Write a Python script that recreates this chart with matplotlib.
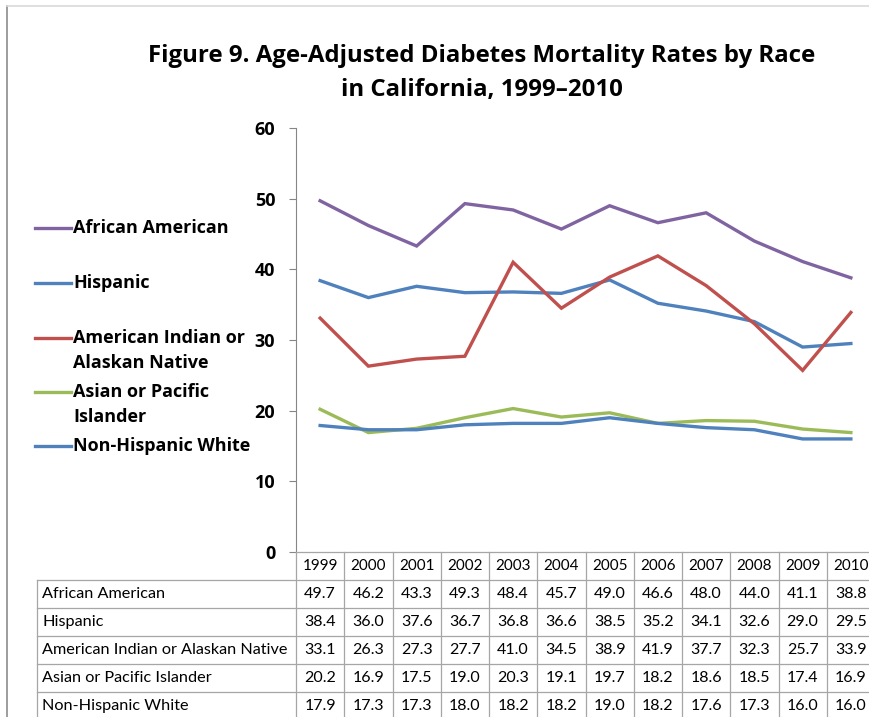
import matplotlib
matplotlib.use("Agg")
import matplotlib.pyplot as plt
from matplotlib.lines import Line2D

years = ["1999", "2000", "2001", "2002", "2003", "2004", "2005", "2006", "2007", "2008", "2009", "2010"]
series_names = ["African American", "Hispanic", "American Indian or Alaskan Native",
                "Asian or Pacific Islander", "Non-Hispanic White"]
legend_labels = [["African American"], ["Hispanic"], ["American Indian or", "Alaskan Native"],
                 ["Asian or Pacific", "Islander"], ["Non-Hispanic White"]]
african_american = [49.7, 46.2, 43.3, 49.3, 48.4, 45.7, 49.0, 46.6, 48.0, 44.0, 41.1, 38.8]
hispanic = [38.4, 36.0, 37.6, 36.7, 36.8, 36.6, 38.5, 35.2, 34.1, 32.6, 29.0, 29.5]
american_indian = [33.1, 26.3, 27.3, 27.7, 41.0, 34.5, 38.9, 41.9, 37.7, 32.3, 25.7, 33.9]
asian_pacific = [20.2, 16.9, 17.5, 19.0, 20.3, 19.1, 19.7, 18.2, 18.6, 18.5, 17.4, 16.9]
non_hispanic_white = [17.9, 17.3, 17.3, 18.0, 18.2, 18.2, 19.0, 18.2, 17.6, 17.3, 16.0, 16.0]
all_series = [african_american, hispanic, american_indian, asian_pacific, non_hispanic_white]
colors = ["#8064A2", "#4F81BD", "#C0504D", "#9BBB59", "#4F81BD"]
yticks = [0, 10, 20, 30, 40, 50, 60]
title_lines = ["Figure 9. Age-Adjusted Diabetes Mortality Rates by Race",
               "in California, 1999\u20132010"]

W, H = 869, 717
fig = plt.figure(figsize=(W / 100, H / 100), dpi=100)
plt.rcParams['font.family'] = ['Lato', 'DejaVu Sans']
BOLD = ['Open Sans', 'DejaVu Sans']

def fx(px):
    return px / W

def fy(py):
    return 1 - py / H

ax_left, ax_right, ax_top, ax_bot = 296, 875, 128, 552
ax = fig.add_axes([fx(ax_left), fy(ax_bot), fx(ax_right - ax_left), (ax_bot - ax_top) / H])
x = list(range(len(years)))
for vals, c in zip(all_series, colors):
    ax.plot(x, vals, color=c, lw=2.4, solid_joinstyle='miter')
ax.set_xlim(-0.5, len(years) - 0.5)
ax.set_ylim(0, 60)
ax.set_yticks(yticks)
ax.set_yticklabels([str(t) for t in yticks], fontsize=13, fontweight='bold', family=BOLD)
ax.set_xticks([])
for s in ["top", "right", "bottom"]:
    ax.spines[s].set_visible(False)
ax.spines["left"].set_color("#868686")
ax.tick_params(axis='y', length=5, color="#868686", pad=10)

# Title
for t, yy in zip(title_lines, [56, 90]):
    fig.text(fx(482), fy(yy), t, ha='center', va='center', fontsize=17.3,
             fontweight='bold', family=BOLD)

# Legend (custom, left side)
leg_y = [228, 283, 338, 392, 446]
for lab, c, yy in zip(legend_labels, colors, leg_y):
    fig.add_artist(Line2D([fx(35), fx(71)], [fy(yy), fy(yy)], color=c, lw=2.4))
    for k, line in enumerate(lab):
        fig.text(fx(73), fy(yy + 25 * k), line, ha='left', va='center',
                 fontsize=13, fontweight='bold', family=BOLD)

# Table
col_w = (ax_right - ax_left) / len(years)
row_h = 28
tab_top = ax_bot
label_left = 37
grid_c = "#a6a6a6"
n_rows = len(series_names) + 1
fs_tab = 11.5
for r in range(n_rows + 1):
    yy = tab_top + r * row_h
    x0 = ax_left if r == 0 else label_left
    fig.add_artist(Line2D([fx(x0), fx(ax_right)], [fy(yy), fy(yy)], color=grid_c, lw=0.9))
for c_i in range(len(years) + 1):
    xx = ax_left + c_i * col_w
    fig.add_artist(Line2D([fx(xx), fx(xx)], [fy(tab_top), fy(tab_top + n_rows * row_h)], color=grid_c, lw=0.9))
fig.add_artist(Line2D([fx(label_left), fx(label_left)], [fy(tab_top + row_h), fy(tab_top + n_rows * row_h)], color=grid_c, lw=0.9))
for i, yr in enumerate(years):
    fig.text(fx(ax_left + (i + 0.5) * col_w), fy(tab_top + row_h / 2), yr,
             ha='center', va='center', fontsize=11.0)
for r, (name, vals) in enumerate(zip(series_names, all_series)):
    yc = tab_top + (r + 1.5) * row_h
    fig.text(fx(label_left + 5), fy(yc), name, ha='left', va='center', fontsize=11.7)
    for i, v in enumerate(vals):
        fig.text(fx(ax_left + (i + 0.5) * col_w), fy(yc), f"{v:.1f}",
                 ha='center', va='center', fontsize=fs_tab)

# outer border
fig.add_artist(Line2D([fx(7), fx(7)], [fy(6), fy(717)], color="#8c8c8c", lw=1.2))
fig.add_artist(Line2D([fx(7), fx(869)], [fy(6), fy(6)], color="#d9d9d9", lw=1.2))

fig.savefig("out.png", dpi=100)
